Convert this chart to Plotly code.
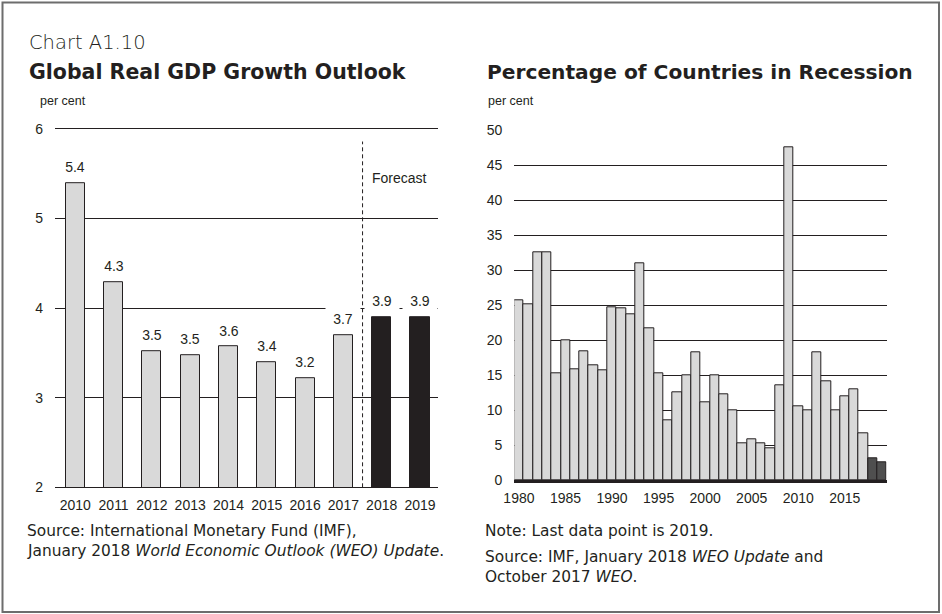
import plotly.graph_objects as go

# left panel: global real GDP growth (per cent)
gdp_years = ['2010', '2011', '2012', '2013', '2014', '2015', '2016', '2017', '2018', '2019']
gdp_growth = [5.40, 4.29, 3.52, 3.48, 3.57, 3.40, 3.22, 3.70, 3.90, 3.90]
gdp_forecast = [False] * 8 + [True] * 2

# right panel: percentage of countries in recession
rec_years = list(range(1980, 2020))
rec_share = [25.7, 25.1, 32.5, 32.5, 15.2, 20.0, 15.8, 18.4, 16.4, 15.7,
             24.7, 24.5, 23.7, 31.0, 21.7, 15.2, 8.6, 12.6, 15.0, 18.2,
             11.1, 14.9, 12.3, 9.9, 5.2, 5.8, 5.2, 4.6, 13.5, 47.5,
             10.5, 9.9, 18.2, 14.1, 9.9, 12.0, 12.9, 6.7, 3.1, 2.5]
rec_projected = [y >= 2018 for y in rec_years]

W, H = 942, 614
INK = '#231f20'
LIGHT = '#d9d9d9'
FONT = 'Liberation Sans, Arial, sans-serif'
WIDE = 'DejaVu Sans, Verdana, sans-serif'


def px(x):
    return x / W


def py(y):
    return 1 - y / H


fig = go.Figure()

fig.add_trace(go.Bar(
    x=gdp_years, y=gdp_growth, xaxis='x', yaxis='y',
    marker=dict(color=[INK if f else LIGHT for f in gdp_forecast],
                line=dict(color=INK, width=1)),
    width=0.5, hoverinfo='x+y'))

fig.add_trace(go.Bar(
    x=rec_years, y=rec_share, xaxis='x2', yaxis='y2',
    marker=dict(color=['#4f4f4f' if p else LIGHT for p in rec_projected],
                line=dict(color=INK, width=1)),
    hoverinfo='x+y'))

axis_font = dict(family=FONT, size=14, color=INK)

fig.update_layout(
    template='none',
    width=W, height=H,
    margin=dict(l=0, r=0, t=0, b=0),
    paper_bgcolor='white', plot_bgcolor='white',
    showlegend=False, bargap=0,
    font=dict(family=FONT, color=INK),
    xaxis=dict(domain=[px(55), px(438)], type='category', range=[-0.53, 9.47],
               showgrid=False, showline=True, linecolor=INK, linewidth=1,
               automargin=False, tickfont=axis_font, ticks='',
               ticklabelstandoff=5, fixedrange=True),
    yaxis=dict(domain=[py(487.3), py(127.2)], range=[2, 6.02], dtick=1,
               showgrid=True, gridcolor=INK, gridwidth=1, zeroline=False,
               showline=False, automargin=False, tickfont=axis_font, ticks='',
               ticklabelstandoff=11, fixedrange=True),
    xaxis2=dict(domain=[px(514.3), px(886.7)], anchor='y2', range=[1979.5, 2019.5],
                tickvals=list(range(1980, 2020, 5)), showgrid=False,
                showline=True, linecolor=INK, linewidth=3, automargin=False,
                tickfont=axis_font, ticks='', ticklabelstandoff=3, fixedrange=True),
    yaxis2=dict(domain=[py(480), py(129.3)], anchor='x2', range=[0, 50.1], dtick=5,
                showgrid=True, gridcolor=INK, gridwidth=1, zeroline=False,
                showline=False, automargin=False, tickfont=axis_font, ticks='',
                ticklabelstandoff=11, fixedrange=True),
)

# forecast divider
fig.add_shape(type='line', xref='x', yref='y', x0=7.5, x1=7.5, y0=2, y1=5.86,
              line=dict(color=INK, width=1, dash='4px,3px'), layer='above')

# frame
fig.add_shape(type='rect', xref='paper', yref='paper',
              x0=px(2.5), x1=px(939), y0=py(612), y1=py(2.5),
              line=dict(color='#6d6d6d', width=2))

# bar value labels with white boxes (they break the gridline like the original)
for i, v in enumerate(gdp_growth):
    fig.add_annotation(x=i, y=v, xref='x', yref='y', text=f'{v:.1f}',
                       showarrow=False, yshift=16, yanchor='middle',
                       bgcolor='white', width=28, height=18, borderpad=3,
                       font=dict(family=FONT, size=14, color=INK))

texts = [
    (27, 42, 'Chart A1.10', dict(family=WIDE, size=19.5, color=INK, weight=300)),
    (27, 72, '<b>Global Real GDP Growth Outlook</b>', dict(family=WIDE, size=20.5, color=INK)),
    (485, 72, '<b>Percentage of Countries in Recession</b>', dict(family=WIDE, size=20.2, color=INK)),
    (38, 101, 'per cent', dict(family=FONT, size=12.5, color=INK)),
    (486, 101, 'per cent', dict(family=FONT, size=12.5, color=INK)),
    (370, 178, 'Forecast', dict(family=FONT, size=14, color=INK)),
    (25, 531, 'Source: International Monetary Fund (IMF),', dict(family=WIDE, size=15.4, color=INK)),
    (25, 551, 'January 2018 <i>World Economic Outlook (WEO) Update</i>.', dict(family=WIDE, size=15.4, color=INK)),
    (483, 531, 'Note: Last data point is 2019.', dict(family=WIDE, size=15.4, color=INK)),
    (483, 557, 'Source: IMF, January 2018 <i>WEO Update</i> and', dict(family=WIDE, size=15.4, color=INK)),
    (483, 577, 'October 2017 <i>WEO</i>.', dict(family=WIDE, size=15.4, color=INK)),
]
for x, y, t, f in texts:
    fig.add_annotation(x=px(x), y=py(y), xref='paper', yref='paper', text=t,
                       showarrow=False, xanchor='left', yanchor='middle', font=f)

# the page's default body margin would push the figure 8px off the window
fig.write_html('out.html', config={'displayModeBar': False},
               post_script="document.body.style.margin = '0';")
